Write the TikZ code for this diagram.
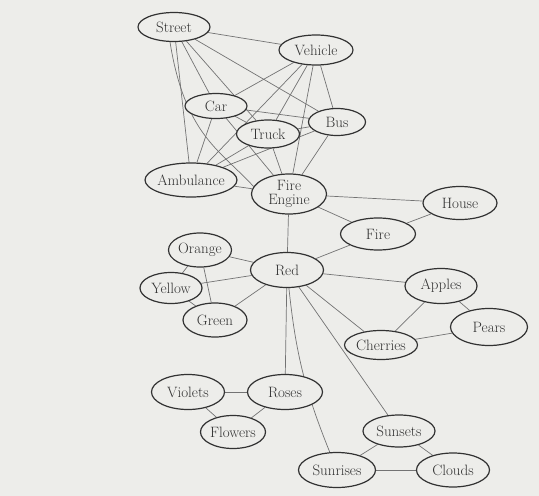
\documentclass[tikz,border=0pt]{standalone}
\usepackage{tikz}
\usepackage{xcolor}
\usetikzlibrary{shapes.geometric}

\definecolor{paper}{RGB}{237,237,234}
\definecolor{ink}{RGB}{50,50,50}
\definecolor{wirecol}{RGB}{115,115,115}

\pgfdeclarelayer{back}
\pgfsetlayers{back,main}

\begin{document}
\begin{tikzpicture}[x=1pt, y=1pt,
    concept/.style={shape=ellipse, draw=ink, line width=1.2pt, fill=paper, text=ink,
        inner xsep=-6pt, inner ysep=0pt, minimum width=72pt, minimum height=32pt,
        font=\fontsize{15}{14}\selectfont, align=center},
    wire/.style={draw=wirecol, line width=0.7pt}]
                    \useasboundingbox (0,0) rectangle (539,-496);

                    \node[concept, minimum width=72, minimum height=29] (street) at (174,-27) {Street};
                    \node[concept, minimum width=74, minimum height=30] (vehicle) at (316,-50) {Vehicle};
                    \node[concept, minimum width=62, minimum height=25] (car) at (216,-106) {Car};
                    \node[concept, minimum width=57, minimum height=27] (bus) at (337,-122) {Bus};
                    \node[concept, minimum width=63, minimum height=28] (truck) at (268,-134) {Truck};
                    \node[concept, minimum width=92, minimum height=34] (ambulance) at (191,-180) {Ambulance};
                    \node[concept, minimum width=75, minimum height=40] (fireengine) at (289,-194) {Fire\\Engine};
                    \node[concept, minimum width=74, minimum height=33] (house) at (460,-203) {House};
                    \node[concept, minimum width=75, minimum height=32] (fire) at (378,-234) {Fire};
                    \node[concept, minimum width=63, minimum height=34] (orange) at (200,-250) {Orange};
                    \node[concept, minimum width=73, minimum height=35] (red) at (287,-270) {Red};
                    \node[concept, minimum width=62, minimum height=31] (yellow) at (171,-288) {Yellow};
                    \node[concept, minimum width=64, minimum height=34] (green) at (215,-320) {Green};
                    \node[concept, minimum width=72, minimum height=35] (apples) at (441,-286) {Apples};
                    \node[concept, minimum width=77, minimum height=37] (pears) at (489,-327) {Pears};
                    \node[concept, minimum width=73, minimum height=29] (cherries) at (381,-345) {Cherries};
                    \node[concept, minimum width=73, minimum height=35] (violets) at (188,-392) {Violets};
                    \node[concept, minimum width=75, minimum height=35] (roses) at (285,-392) {Roses};
                    \node[concept, minimum width=65, minimum height=33] (flowers) at (233,-432) {Flowers};
                    \node[concept, minimum width=72, minimum height=32] (sunsets) at (399,-431) {Sunsets};
                    \node[concept, minimum width=77, minimum height=35] (sunrises) at (337,-470) {Sunrises};
                    \node[concept, minimum width=73, minimum height=34] (clouds) at (453,-470) {Clouds};

                    % links go behind the ellipses
                    \begin{pgfonlayer}{back}
                    \fill[paper] (0,0) rectangle (539,-496);
                    \path (street) edge[wire] (vehicle);
                    \path (street) edge[wire] (car);
                    \path (street) edge[wire] (truck);
                    \path (street) edge[wire] (bus);
                    \path (street) edge[wire] (ambulance);
                    \draw[wire] (street.-105) .. controls (185,-135) and (220,-150) .. (fireengine.168);
                    \path (vehicle) edge[wire] (car);
                    \path (vehicle) edge[wire] (truck);
                    \path (vehicle) edge[wire] (bus);
                    \path (vehicle) edge[wire] (ambulance);
                    \path (vehicle) edge[wire] (fireengine);
                    \path (car) edge[wire] (bus);
                    \path (car) edge[wire] (truck);
                    \path (car) edge[wire] (ambulance);
                    \path (car) edge[wire] (fireengine);
                    \path (bus) edge[wire] (truck);
                    \path (bus) edge[wire] (ambulance);
                    \path (bus) edge[wire] (fireengine);
                    \path (truck) edge[wire] (ambulance);
                    \path (truck) edge[wire] (fireengine);
                    \path (ambulance) edge[wire] (fireengine);
                    \path (fireengine) edge[wire] (house);
                    \path (fireengine) edge[wire] (fire);
                    \path (fireengine) edge[wire] (red);
                    \path (house) edge[wire] (fire);
                    \path (fire) edge[wire] (red);
                    \path (red) edge[wire] (orange);
                    \path (red) edge[wire] (yellow);
                    \path (red) edge[wire] (green);
                    \path (orange) edge[wire] (yellow);
                    \path (orange) edge[wire] (green);
                    \path (yellow) edge[wire] (green);
                    \path (red) edge[wire] (apples);
                    \path (red) edge[wire] (cherries);
                    \path (apples) edge[wire] (pears);
                    \path (apples) edge[wire] (cherries);
                    \path (cherries) edge[wire] (pears);
                    \path (red) edge[wire] (roses);
                    \path (red) edge[wire, bend right=8] (sunrises);
                    \path (red) edge[wire] (sunsets);
                    \path (violets) edge[wire] (roses);
                    \path (violets) edge[wire] (flowers);
                    \path (roses) edge[wire] (flowers);
                    \path (sunsets) edge[wire] (sunrises);
                    \path (sunsets) edge[wire] (clouds);
                    \path (sunrises) edge[wire] (clouds);
                    \end{pgfonlayer}
                \end{tikzpicture}
\end{document}
